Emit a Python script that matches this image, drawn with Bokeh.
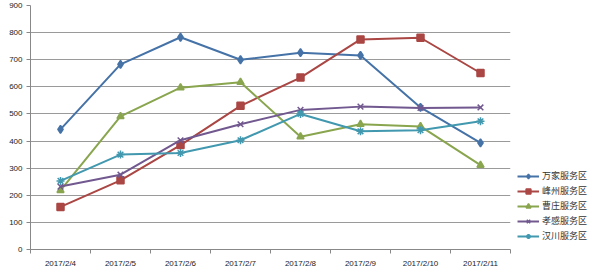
from bokeh.plotting import figure
from bokeh.models import FixedTicker, Legend, LegendItem, Range1d
from bokeh.embed import file_html
from bokeh.resources import INLINE

dates = ["2017/2/4", "2017/2/5", "2017/2/6", "2017/2/7", "2017/2/8", "2017/2/9", "2017/2/10", "2017/2/11"]
names = ["万家服务区", "峰州服务区", "曹庄服务区", "孝感服务区", "汉川服务区"]
wanjia = [443, 683, 783, 700, 726, 716, 524, 393]
fengzhou = [157, 255, 385, 530, 634, 775, 781, 651]
caozhuang = [218, 491, 597, 617, 416, 462, 454, 311]
xiaogan = [232, 276, 403, 462, 515, 527, 522, 524]
hanchuan = [253, 350, 356, 403, 500, 436, 440, 473]

series = [wanjia, fengzhou, caozhuang, xiaogan, hanchuan]
colors = ["#4572A7", "#AA4643", "#89A54E", "#71588F", "#4198AF"]
markers = ["diamond", "square", "triangle", "x", "asterisk"]
msizes = [8, 7, 7, 8, 8]

xs = [i + 0.5 for i in range(len(dates))]

p = figure(frame_width=480, frame_height=244, output_backend="svg", toolbar_location=None,
           x_range=Range1d(0, len(dates)), y_range=Range1d(0, 900),
           min_border_left=30, min_border_right=0, min_border_top=5, min_border_bottom=21)
p.outline_line_color = None
p.background_fill_color = "white"

p.xaxis.ticker = FixedTicker(ticks=xs, minor_ticks=list(range(len(dates) + 1)))
p.xaxis.major_label_overrides = {x: d for x, d in zip(xs, dates)}
p.xaxis.major_tick_out = 0
p.xaxis.major_tick_in = 0
p.xaxis.minor_tick_out = 4
p.xaxis.minor_tick_in = 0
p.xaxis.minor_tick_line_color = "#888888"
p.xaxis.axis_line_color = "#888888"
p.xaxis.major_label_text_font_size = "8px"
p.xaxis.major_label_text_color = "#222222"
p.xaxis.major_label_standoff = 5

p.yaxis.ticker = FixedTicker(ticks=list(range(0, 901, 100)))
p.yaxis.major_tick_out = 4
p.yaxis.major_tick_in = 0
p.yaxis.minor_tick_out = 0
p.yaxis.axis_line_color = "#888888"
p.yaxis.major_tick_line_color = "#888888"
p.yaxis.major_label_text_font_size = "8px"
p.yaxis.major_label_text_color = "#222222"
p.yaxis.major_label_standoff = 4

p.xgrid.grid_line_color = None
p.ygrid.grid_line_color = "#9a9a9a"
p.ygrid.grid_line_width = 1

items = []
for name, ys, c, m, s in zip(names, series, colors, markers, msizes):
    r1 = p.line(xs, ys, line_color=c, line_width=2)
    r2 = p.scatter(xs, ys, marker=m, size=s, fill_color=c, line_color=c, line_width=1.5)
    items.append(LegendItem(label=name, renderers=[r1, r2]))

legend = Legend(items=items, location="bottom_left", orientation="vertical",
                label_text_font_size="9px", label_text_color="#333333",
                label_text_font="Noto Sans CJK SC",
                glyph_width=22, glyph_height=12, spacing=2, padding=3, margin=7,
                label_standoff=3, background_fill_alpha=0, border_line_color=None)
p.add_layout(legend, "right")

open("out.html", "w").write(file_html(p, INLINE))
